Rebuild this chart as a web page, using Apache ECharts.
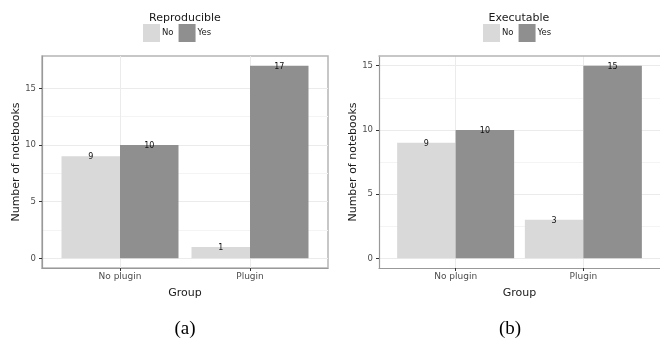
<!DOCTYPE html>
<html><head><meta charset="utf-8">
<script src="https://cdn.jsdelivr.net/npm/echarts@6/dist/echarts.min.js"></script>
<style>html,body{margin:0;padding:0;background:#fff}#c{width:660px;height:341px}</style>
</head><body><div id="c"></div>
<script>
const categories = ['No plugin', 'Plugin'];
const seriesNames = ['No', 'Yes'];
const reproNo = [9, 1];
const reproYes = [10, 17];
const execNo = [9, 3];
const execYes = [10, 15];
const yTicks = [0, 5, 10, 15];
const yMinor = [2.5, 7.5, 12.5];
const panelTitles = ['Reproducible', 'Executable'];
const captions = ['(a)', '(b)'];

const F = 'DejaVu Sans';
const cLight = '#d9d9d9', cDark = '#8f8f8f';
const pos = categories.map((c, i) => i + 1);

function xAxis(gi) {
  return {
    type: 'value', gridIndex: gi, min: 0.4, max: 2.6,
    name: 'Group', nameLocation: 'middle', nameGap: 20,
    nameTextStyle: { fontFamily: F, fontSize: 11, color: '#1a1a1a' },
    axisLine: { show: true, onZero: false, lineStyle: { color: '#999', width: 1.2 } },
    axisTick: { show: true, length: 3, customValues: pos, lineStyle: { color: '#333' } },
    axisLabel: { customValues: pos, margin: 4, fontFamily: F, fontSize: 9, color: '#4d4d4d',
      formatter: v => categories[Math.round(v) - 1] || '' },
    splitLine: { show: true, lineStyle: { color: '#ebebeb', width: 1 } }
  };
}
function topAxis(gi) {
  return {
    type: 'value', gridIndex: gi, min: 0.4, max: 2.6, position: 'top',
    axisLine: { show: true, onZero: false, lineStyle: { color: '#b5b5b5', width: 1.5 } },
    axisTick: { show: false }, axisLabel: { show: false }, splitLine: { show: false }
  };
}
function yAxis(gi, max) {
  const ymin = -max * 0.05, ymax = max * 1.05;
  return [{
    type: 'value', gridIndex: gi, min: ymin, max: ymax,
    name: 'Number of notebooks', nameLocation: 'middle', nameGap: 20,
    nameTextStyle: { fontFamily: F, fontSize: 11, color: '#1a1a1a' },
    axisLine: { show: true, lineStyle: { color: '#999', width: 1.2 } },
    axisTick: { show: true, length: 3, customValues: yTicks, lineStyle: { color: '#333' } },
    axisLabel: { customValues: yTicks, margin: 6, fontFamily: F, fontSize: 8.5, color: '#4d4d4d' },
    splitLine: { show: true, lineStyle: { color: '#ebebeb', width: 1 } }
  }, {
    type: 'value', gridIndex: gi, min: ymin, max: ymax,
    axisLine: { show: false }, axisTick: { show: false, customValues: yMinor },
    axisLabel: { show: false, customValues: yMinor },
    splitLine: { show: true, lineStyle: { color: '#f4f4f4', width: 1 } }
  }];
}
function bars(gi, name, vals, color) {
  return {
    type: 'bar', name, xAxisIndex: gi, yAxisIndex: gi * 2,
    data: vals.map((v, i) => [pos[i], v]),
    barWidth: 58.5, barGap: '0%',
    itemStyle: { color },
    label: { show: true, position: 'top', distance: 0, offset: [0, 5],
      fontFamily: F, fontSize: 8, color: '#111' },
    z: 3
  };
}
const legendBase = {
  data: seriesNames, itemWidth: 17, itemHeight: 18, itemGap: 5, icon: 'rect',
  selectedMode: false, padding: 0,
  textStyle: { fontFamily: F, fontSize: 8.5, color: '#1a1a1a', padding: [0, 0, 0, -3] }
};

const option = {
  animation: false,
  backgroundColor: '#fff',
  color: [cLight, cDark],
  title: [
    { text: panelTitles[0], left: 180, top: 8, textAlign: 'center',
      textStyle: { fontFamily: F, fontSize: 11, fontWeight: 'normal', color: '#1a1a1a' } },
    { text: panelTitles[1], left: 514, top: 8, textAlign: 'center',
      textStyle: { fontFamily: F, fontSize: 11, fontWeight: 'normal', color: '#1a1a1a' } },
    { text: captions[0], left: 180, top: 315, textAlign: 'center',
      textStyle: { fontFamily: 'Liberation Serif', fontSize: 19, fontWeight: 'normal', color: '#000' } },
    { text: captions[1], left: 505, top: 315, textAlign: 'center',
      textStyle: { fontFamily: 'Liberation Serif', fontSize: 19, fontWeight: 'normal', color: '#000' } }
  ],
  legend: [
    Object.assign({}, legendBase, { left: 143, top: 24 }),
    Object.assign({}, legendBase, { left: 483, top: 24 })
  ],
  grid: [
    { left: 42, right: 332, top: 56, bottom: 73, show: true, borderColor: '#b5b5b5', borderWidth: 1.5, backgroundColor: '#fff' },
    { left: 379, right: -6, top: 56, bottom: 73, show: false }
  ],
  xAxis: [xAxis(0), xAxis(1), topAxis(1)],
  yAxis: [].concat(yAxis(0, 17), yAxis(1, 15)),
  series: [
    bars(0, 'No', reproNo, cLight),
    bars(0, 'Yes', reproYes, cDark),
    bars(1, 'No', execNo, cLight),
    bars(1, 'Yes', execYes, cDark)
  ]
};
const chart = echarts.init(document.getElementById('c'), null, { renderer: 'canvas' });
chart.setOption(option);
</script></body></html>
